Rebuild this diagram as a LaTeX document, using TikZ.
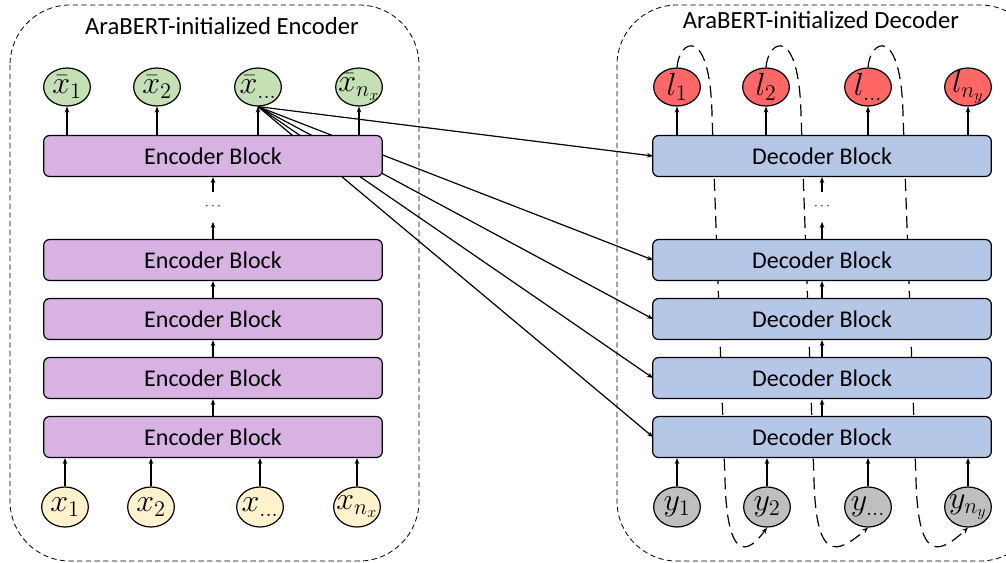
\RequirePackage{fix-cm}
\documentclass[tikz,border=0pt]{standalone}
\usepackage{fontspec}
\setmainfont{Carlito}
\usetikzlibrary{shapes, arrows.meta, calc}

\definecolor{encfill}{HTML}{D7B2E3}
\definecolor{decfill}{HTML}{B4C7E7}
\definecolor{xinfill}{HTML}{FFF2CC}
\definecolor{xoutfill}{HTML}{C5E0B4}
\definecolor{yinfill}{HTML}{BFBFBF}
\definecolor{loutfill}{HTML}{FF6666}

\begin{document}
\begin{tikzpicture}[x=0.75pt, y=-0.75pt]
  \newcommand\encx{213}
  \newcommand\decx{822}
  \newcommand\topy{87}
  \newcommand\boty{507}

  \tikzset{block/.style={draw, rounded corners=4.5pt, minimum width=254pt, minimum height=30.75pt, line width=0.9pt, font=\fontsize{18}{20}\selectfont}}
  \tikzset{encblock/.style={block, fill=encfill}}
  \tikzset{decblock/.style={block, fill=decfill}}
  \tikzset{tok/.style={draw, ellipse, inner sep=0pt, minimum width=35pt, minimum height=28.5pt, line width=0.9pt}}
  \tikzset{toklabel/.style={label={[font=\fontsize{24}{26}\selectfont, inner sep=0pt]center:#1}}}
  \tikzset{ptr/.style={-{Stealth[length=4.5pt, width=3.5pt]}, line width=0.9pt}}
  \tikzset{frame/.style={draw, dash pattern=on 4pt off 2.5pt, line width=0.6pt, rounded corners=45pt}}
  \tikzset{shiftline/.style={-{Stealth[length=4.5pt, width=3.5pt]}, dash pattern=on 9pt off 5pt, line width=0.9pt}}

  \useasboundingbox (0,0) rectangle (1006,562);
  \clip (0,0) rectangle (1006,562);

  % containers
  \draw[frame] (10,5) rectangle (419,561);
  \draw[frame] (617,5) rectangle (1040,561);
  \node[font=\fontsize{18.5}{20}\selectfont] (enctitle) at (222,26) {AraBERT-initialized Encoder};
  \node[font=\fontsize{18.5}{20}\selectfont] (dectitle) at (821,20) {AraBERT-initialized Decoder};

  % tokens
  \foreach \x/\lbl [count=\i] in {65/1, 151/2, 260/{\dots}, 357/{n_x}}{
    \node[tok, fill=xinfill, minimum height=30pt, toklabel={$x_{\lbl}$}] (xin\i) at (\x, \boty) {};
  }
  \foreach \x/\lbl [count=\i] in {67/1, 157/2, 258/{\dots}, 359/{n_x}}{
    \node[tok, fill=xoutfill, toklabel={$\bar{x}_{\lbl}$}] (xout\i) at (\x, \topy) {};
  }
  \foreach \x/\lbl [count=\i] in {677/1, 767/2, 868/{\dots}, 968/{n_y}}{
    \node[tok, fill=yinfill, minimum height=30pt, toklabel={$y_{\lbl}$}] (yin\i) at (\x, \boty) {};
  }
  \foreach \x/\lbl [count=\i] in {677/1, 766/2, 868/{\dots}, 968/{n_y}}{
    \node[tok, fill=loutfill, toklabel={$l_{\lbl}$}] (lout\i) at (\x, \topy) {};
  }

  % decoder block positions (needed before drawing the cross arrows)
  \foreach \y [count=\i] in {437, 378, 319, 260}{
    \coordinate (decw\i) at (\decx-169, \y);
  }
  \coordinate (decw5) at (\decx-169, 156);

  % cross attention, drawn under the blocks
  \foreach \i in {1,...,5}{
    \draw[ptr] (xout3.south) -- (decw\i);
  }

  % shifted targets, also under the blocks
  \foreach \a/\b in {1/2, 2/3, 3/4}{
    \draw[shiftline] (lout\a.north)
      .. controls ($(lout\a.north)+(2,-28)$) and ($(lout\a.north)+(33,-43)$) .. ($(lout\a.north)+(35,47)$)
      -- ($(lout\a.north)+(48,412)$)
      .. controls ($(lout\a.north)+(50,494)$) and ($(lout\a.north)+(70,488)$) .. (yin\b.south);
  }

  % blocks
  \foreach \y [count=\i] in {437, 378, 319, 260}{
    \node[encblock] (enc\i) at (\encx, \y) {Encoder Block};
    \node[decblock] (dec\i) at (\decx, \y) {Decoder Block};
  }
  \node[encblock] (enc5) at (\encx, 156) {Encoder Block};
  \node[decblock] (dec5) at (\decx, 156) {Decoder Block};

  \foreach \i [count=\j from 2] in {1, 2, 3}{
    \draw[ptr] (enc\i.north) -- (enc\j.south);
    \draw[ptr] (dec\i.north) -- (dec\j.south);
  }

  % skipped layers
  \node[inner sep=0pt, minimum height=22pt] (encdots) at (\encx, 207) {$\cdots$};
  \node[inner sep=0pt, minimum height=22pt] (decdots) at (\decx, 207) {$\cdots$};
  \draw[ptr] (enc4.north) -- (encdots.south);
  \draw[ptr] (encdots.north) -- (enc5.south);
  \draw[ptr] (dec4.north) -- (decdots.south);
  \draw[ptr] (decdots.north) -- (dec5.south);

  % inputs and outputs
  \foreach \i in {1,...,4}{
    \draw[ptr] (xin\i.north) -- (xin\i.north |- enc1.south);
    \draw[ptr] (yin\i.north) -- (yin\i.north |- dec1.south);
    \draw[ptr] (xout\i.south |- enc5.north) -- (xout\i.south);
    \draw[ptr] (lout\i.south |- dec5.north) -- (lout\i.south);
  }
\end{tikzpicture}
\end{document}
